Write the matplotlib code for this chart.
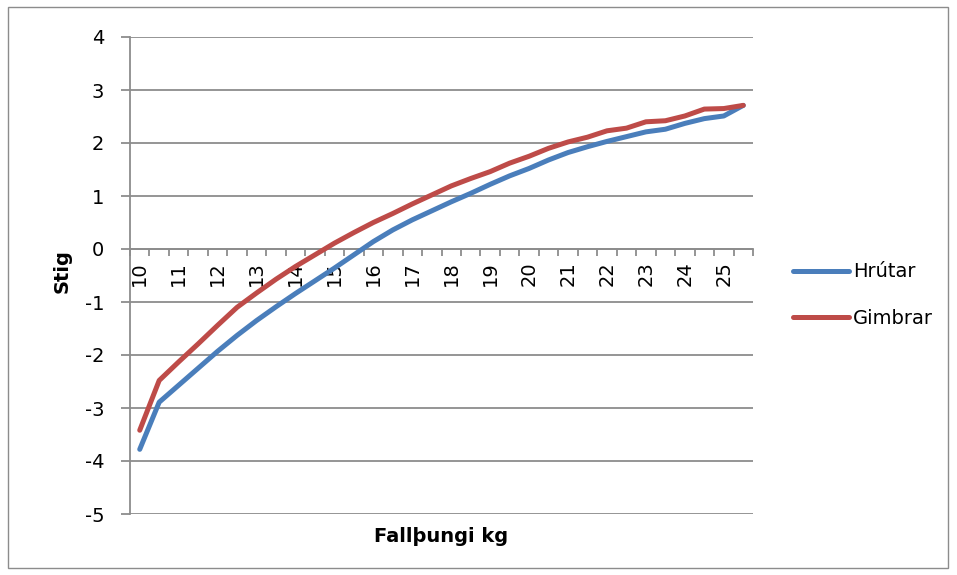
import matplotlib
matplotlib.use("Agg")
import matplotlib.pyplot as plt
from matplotlib.patches import Rectangle

plt.rcParams['font.family'] = ['DejaVu Sans']
plt.rcParams['axes.unicode_minus'] = False

categories = [10 + 0.5 * i for i in range(32)]
tick_labels = [str(int(c)) if c == int(c) else "" for c in categories]

hrutar = [-3.78, -2.89, -2.57, -2.25, -1.93, -1.63, -1.35, -1.09, -0.84, -0.60,
          -0.36, -0.11, 0.14, 0.36, 0.55, 0.72, 0.89, 1.05, 1.22, 1.38,
          1.52, 1.68, 1.82, 1.93, 2.03, 2.12, 2.21, 2.26, 2.37, 2.46,
          2.51, 2.71]
gimbrar = [-3.42, -2.48, -2.13, -1.79, -1.44, -1.10, -0.83, -0.57, -0.33, -0.11,
           0.11, 0.31, 0.50, 0.67, 0.85, 1.02, 1.19, 1.33, 1.46, 1.62,
           1.75, 1.90, 2.02, 2.11, 2.23, 2.28, 2.40, 2.42, 2.51, 2.64,
           2.65, 2.71]

series_names = ["Hrútar", "Gimbrar"]
colors = ["#4a7ebb", "#be4b48"]
grid_color = "#8c8c8c"

W, H = 957, 575
fig = plt.figure(figsize=(W / 100, H / 100), dpi=100)
fig.patches.append(Rectangle((8 / W, 7 / H), 940 / W, 561 / H, transform=fig.transFigure,
                             fill=False, edgecolor=grid_color, lw=1.0))

ax = fig.add_axes([130 / W, (H - 514) / H, 623 / W, 477 / H])
x = list(range(len(categories)))
for vals, name, c in zip([hrutar, gimbrar], series_names, colors):
    ax.plot(x, vals, color=c, lw=3.6, solid_capstyle='round', solid_joinstyle='round',
            label=name, zorder=3)

ax.set_xlim(-0.5, len(categories) - 0.5)
ax.set_ylim(-5, 4)
ax.set_yticks(range(-5, 5))
ax.yaxis.grid(True, color=grid_color, lw=1.3)
ax.set_axisbelow(True)

for s in ['top', 'right']:
    ax.spines[s].set_visible(False)
ax.spines['left'].set_color(grid_color)
ax.spines['left'].set_linewidth(1.3)
ax.spines['bottom'].set_position(('data', 0))
ax.spines['bottom'].set_color(grid_color)
ax.spines['bottom'].set_linewidth(1.3)

ax.tick_params(axis='y', direction='out', length=6.5, width=1.3, color=grid_color,
               pad=12, labelsize=14)

ax.set_xticks([i - 0.5 for i in range(len(categories) + 1)])
ax.set_xticklabels([])
ax.tick_params(axis='x', which='major', direction='out', length=5, width=1.3, color=grid_color)
lab_pos = [i for i, t in enumerate(tick_labels) if t]
ax.set_xticks(lab_pos, minor=True)
ax.set_xticklabels([tick_labels[i] for i in lab_pos], minor=True, rotation=90)
ax.tick_params(axis='x', which='minor', length=0, pad=9, labelsize=14)

fig.text(62 / W, 1 - 271 / H, "Stig", rotation=90, ha='center', va='center',
         fontsize=14, fontweight='bold')
fig.text(441 / W, 1 - 537 / H, "Fallþungi kg", ha='center', va='center',
         fontsize=14, fontweight='bold')

ax.legend(loc='center left', bbox_to_anchor=(793 / W, 1 - 295 / H),
          bbox_transform=fig.transFigure, frameon=False, borderpad=0, borderaxespad=0,
          handlelength=2.9, handletextpad=0.2, labelspacing=1.4, fontsize=14)

fig.savefig("out.png", dpi=100)
